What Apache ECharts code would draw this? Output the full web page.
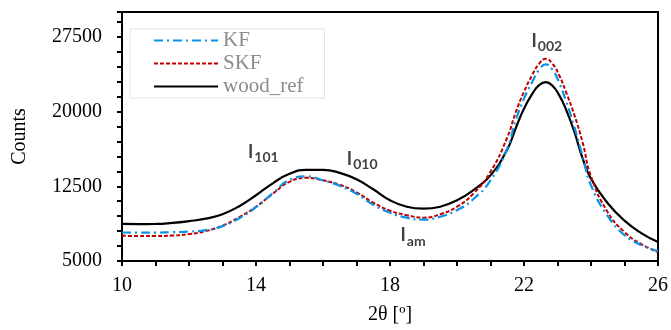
<!DOCTYPE html>
<html><head><meta charset="utf-8">
<script src="https://cdn.jsdelivr.net/npm/echarts@6/dist/echarts.min.js"></script>
<style>html,body{margin:0;padding:0;background:#fff}#c{width:671px;height:330px}</style>
</head><body><div id="c"></div>
<script>
const twoTheta = [10,10.5,11,11.5,12,12.5,13,13.5,14,14.5,15,15.5,16,16.5,17,17.5,18,18.5,19,19.5,20,20.5,21,21.5,21.75,22,22.25,22.45,22.65,22.85,23.05,23.25,23.5,23.75,24,24.5,25,25.5,26];
const woodRef = [8720,8710,8720,8820,9000,9250,9700,10500,11600,12800,13750,14150,14150,13850,13200,12200,11100,10450,10250,10450,11100,12150,13600,16200,18300,20300,21800,22650,22950,22600,21650,20250,18000,15300,13250,10800,9050,7800,6900];
const skf = [7540,7500,7500,7550,7700,8000,8550,9400,10450,11750,12950,13350,13100,12650,11900,10850,10050,9600,9350,9700,10450,11800,13950,17400,19900,22000,23700,24800,25300,24800,23650,22000,19700,16900,13500,9900,7900,6700,5900];
const kf = [7860,7850,7850,7900,7950,8100,8500,9300,10400,11800,13150,13500,13100,12550,11750,10650,9850,9350,9150,9450,10100,11250,13100,16300,19100,21300,23000,24200,24750,24200,22900,21100,18500,15500,12600,9500,7600,6600,6000];
const seriesNames = ['KF','SKF','wood_ref'];
const xTickLabels = [10,14,18,22,26];
const yTickLabels = [5000,12500,20000,27500];
const annX = [14.22,17.17,18.69,22.68];
const annY = [15756,15065,7368,26907];
const annSub = ['101','010','am','002'];

const pair = arr => twoTheta.map((x,i)=>[x,arr[i]]);
const serif = 'Liberation Serif';
const chart = echarts.init(document.getElementById('c'));
chart.setOption({
  animation:false,
  grid:{left:122,right:12,top:12,bottom:65,show:true,borderColor:'#000',borderWidth:2},
  legend:{data:seriesNames,orient:'vertical',left:130,top:29,backgroundColor:'#fff',borderColor:'#e3e3e3',borderWidth:1,
    padding:[1,21,1,23],itemWidth:64,itemHeight:12,itemGap:2,
    itemStyle:{opacity:0},
    textStyle:{color:'#8c8c8c',fontFamily:serif,fontSize:21}},
  xAxis:{type:'value',min:10,max:26,interval:1,
    name:'2θ [º]',nameLocation:'middle',nameGap:44,nameTextStyle:{fontFamily:serif,fontSize:20,color:'#000'},
    axisLine:{lineStyle:{color:'#000',width:2}},
    axisTick:{length:5,lineStyle:{color:'#000',width:2}},
    splitLine:{show:false},
    axisLabel:{margin:15,fontFamily:serif,fontSize:20,color:'#000',
      formatter:v=>xTickLabels.includes(v)?String(v):''}},
  yAxis:{type:'value',min:5000,max:30000,interval:1500,
    name:'Counts',nameLocation:'middle',nameGap:92,nameTextStyle:{fontFamily:serif,fontSize:20,color:'#000'},
    axisLine:{lineStyle:{color:'#000',width:2}},
    axisTick:{length:5,lineStyle:{color:'#000',width:2}},
    splitLine:{show:false},
    axisLabel:{margin:20,fontFamily:serif,fontSize:20,color:'#000',
      formatter:v=>yTickLabels.includes(v)?String(v):''}},
  series:[
    {name:'wood_ref',type:'line',data:pair(woodRef),smooth:true,symbol:'none',z:2,
      lineStyle:{color:'#000',width:2.2},itemStyle:{color:'#000'}},
    {name:'SKF',type:'line',data:pair(skf),smooth:true,symbol:'none',z:3,
      lineStyle:{color:'#c00000',width:2,type:[4,2]},itemStyle:{color:'#c00000'}},
    {name:'KF',type:'line',data:pair(kf),smooth:true,symbol:'none',z:4,
      lineStyle:{color:'#0a93e6',width:2.2,type:[9,4,2,4]},itemStyle:{color:'#0a93e6'}},
    {name:'ann',type:'scatter',data:annX.map((x,i)=>[x,annY[i],annSub[i]]),symbolSize:0,z:5,silent:true,
      label:{show:true,position:'inside',
        formatter:p=>'{i|I}{s|'+p.data[2]+'}',
        rich:{i:{fontFamily:'Lato',fontWeight:'bold',fontSize:18,color:'#111',verticalAlign:'top'},
              s:{fontFamily:'Lato',fontWeight:'bold',fontSize:14,color:'#111',verticalAlign:'top',padding:[8,0,0,1]}}}}
  ]
});
</script></body></html>
